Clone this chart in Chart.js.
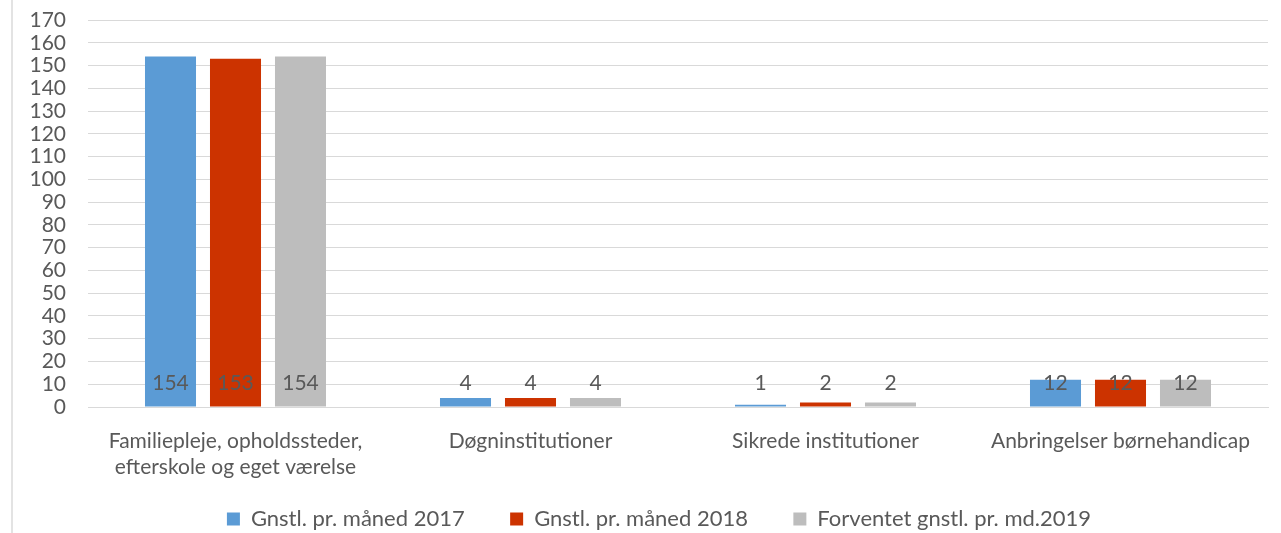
<!DOCTYPE html>
<html>
<head>
<meta charset="utf-8">
<script src="https://cdn.jsdelivr.net/npm/chart.js@4.4.1/dist/chart.umd.min.js"></script>
<style>
  html, body { margin: 0; padding: 0; background: #ffffff; }
  #wrap { position: relative; width: 1281px; height: 533px; }
  #border { position: absolute; left: 11px; top: 0; width: 2px; height: 533px; background: #e3e3e3; }
  canvas { position: absolute; left: 0; top: 0; }
</style>
</head>
<body>
<div id="wrap">
  <div id="border"></div>
  <canvas id="c" width="1281" height="533"></canvas>
</div>
<script>
const categories = [
  ["Familiepleje, opholdssteder,", "efterskole og eget værelse"],
  "Døgninstitutioner",
  "Sikrede institutioner",
  "Anbringelser børnehandicap"
];
const seriesNames = ["Gnstl. pr. måned 2017", "Gnstl. pr. måned 2018", "Forventet gnstl. pr. md.2019"];
const values2017 = [154, 4, 1, 12];
const values2018 = [153, 4, 2, 12];
const values2019 = [154, 4, 2, 12];
const colors = ["#5B9BD5", "#CC3300", "#BDBDBD"];
const yTicks = { min: 0, max: 170, step: 10 };

const FONT = "Lato, 'Open Sans', sans-serif";
const TEXT = "#595959";

const labelPlugin = {
  id: 'baseLabels',
  afterDatasetsDraw(chart) {
    const ctx = chart.ctx;
    const y0 = chart.scales.y.getPixelForValue(0);
    ctx.save();
    ctx.font = "21px " + FONT;
    ctx.fillStyle = TEXT;
    ctx.textAlign = 'center';
    ctx.textBaseline = 'middle';
    chart.data.datasets.forEach((ds, i) => {
      const meta = chart.getDatasetMeta(i);
      meta.data.forEach((bar, j) => {
        ctx.fillText(String(ds.data[j]), bar.x, y0 - 24);
      });
    });
    ctx.restore();
  }
};

const legendShift = {
  id: 'legendShift',
  afterLayout(chart) {
    if (chart.legend) {
      chart.legend.left += 25;
      chart.legend.right += 25;
    }
  }
};

new Chart(document.getElementById('c'), {
  type: 'bar',
  data: {
    labels: categories,
    datasets: [values2017, values2018, values2019].map((d, i) => ({
      label: seriesNames[i],
      data: d,
      backgroundColor: colors[i],
      borderWidth: 0,
      categoryPercentage: 0.661,
      barPercentage: 0.785
    }))
  },
  options: {
    responsive: false,
    animation: false,
    devicePixelRatio: 1,
    layout: { padding: { left: 0, right: 13, top: 20, bottom: -7 } },
    plugins: {
      tooltip: { enabled: false },
      legend: {
        position: 'bottom',
        labels: {
          boxWidth: 13,
          boxHeight: 13,
          padding: 6,
          color: TEXT,
          font: { family: FONT, size: 22 },
          generateLabels(chart) {
            const items = Chart.defaults.plugins.legend.labels.generateLabels(chart);
            items.forEach((it, i) => { if (i < items.length - 1) it.text = it.text + '       '; });
            return items;
          }
        }
      }
    },
    scales: {
      x: {
        grid: { display: false, drawTicks: false },
        border: { display: true, color: '#d9d9d9', width: 1 },
        ticks: { color: TEXT, font: { family: FONT, size: 21, lineHeight: 1.25 }, padding: 21, maxRotation: 0, autoSkip: false },
        afterFit(scale) { scale.height = 95; }
      },
      y: {
        min: yTicks.min,
        max: yTicks.max,
        grid: { color: '#d9d9d9', lineWidth: 1, drawTicks: true, tickLength: 22, tickColor: 'rgba(0,0,0,0)' },
        border: { display: false },
        ticks: { stepSize: yTicks.step, autoSkip: false, color: TEXT, font: { family: FONT, size: 21 }, padding: 0 },
        afterFit(scale) { scale.width = 88; }
      }
    }
  },
  plugins: [labelPlugin, legendShift]
});
</script>
</body>
</html>
